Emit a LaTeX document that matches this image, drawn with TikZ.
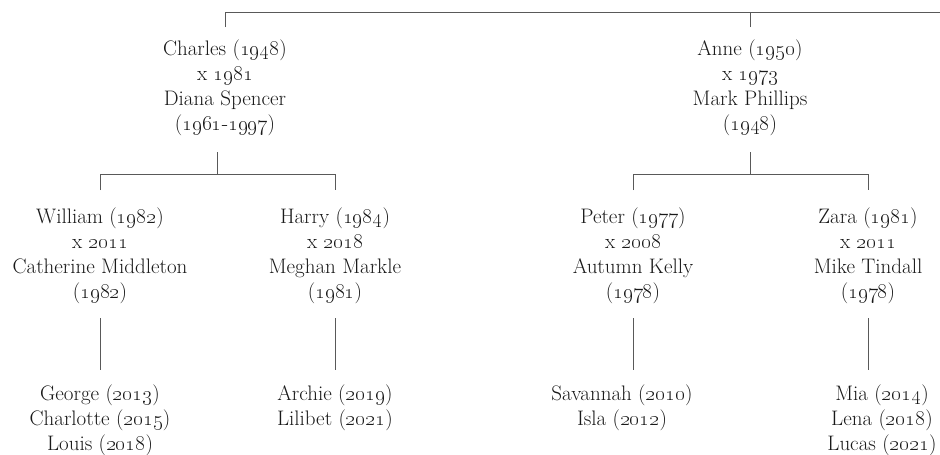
\documentclass[tikz,border=0pt]{standalone}
\usepackage{fix-cm}
\usetikzlibrary{calc,positioning}
\newcommand{\yr}[1]{\oldstylenums{#1}}
\tikzset{%
  person/.style={align=center,inner sep=0pt,anchor=north,
    font=\fontsize{21}{25}\selectfont,text=black!90},
  link/.style={draw=black!65,line width=0.8pt}
}
\begin{document}
\begin{tikzpicture}[x=1pt,y=1pt]
  \useasboundingbox (0,0) rectangle (940,-455);
  % first generation
  \node [person] (ch) at (225,-39.5) {Charles (\yr{1948})\\x \yr{1981}\\Diana Spencer\\(\yr{1961}-\yr{1997})};
  \node [person] (an) at (750,-39.5) {Anne (\yr{1950})\\x \yr{1973}\\Mark Phillips\\(\yr{1948})};
  % second generation
  \node [person] (wi) at (100,-208) {William (\yr{1982})\\x \yr{2011}\\Catherine Middleton\\(\yr{1982})};
  \node [person] (ha) at (335,-208) {Harry (\yr{1984})\\x \yr{2018}\\Meghan Markle\\(\yr{1981})};
  \node [person] (pe) at (633,-208) {Peter (\yr{1977})\\x \yr{2008}\\Autumn Kelly\\(\yr{1978})};
  \node [person] (za) at (868,-208) {Zara (\yr{1981})\\x \yr{2011}\\Mike Tindall\\(\yr{1978})};
  % third generation
  \node [person] (ge) [below=80pt of wi] {George (\yr{2013})\\Charlotte (\yr{2015})\\Louis (\yr{2018})};
  \node [person] (ar) [below=80pt of ha] {Archie (\yr{2019})\\Lilibet (\yr{2021})};
  \node [person] (sa) [below=80pt of pe,xshift=-11pt] {Savannah (\yr{2010})\\Isla (\yr{2012})};
  \node [person] (mi) [below=80pt of za,xshift=14pt] {Mia (\yr{2014})\\Lena (\yr{2018})\\Lucas (\yr{2021})};

  % top bar, it runs on past the right edge
  \coordinate (rest) at (940,-12);
  \draw [link] ([yshift=12.5pt]ch.north) |- (rest);
  \draw [link] ([yshift=12.5pt]an.north) -- ++(0,15);

  % couples to their children
  \draw [link] ([yshift=18pt]wi.north) -- ++(0,16) -| ([yshift=18pt]ha.north);
  \draw [link] ($(wi.north)!.5!(ha.north)+(0,34)$) -- ++(0,22);
  \draw [link] ([yshift=18pt]pe.north) -- ++(0,16) -| ([yshift=18pt]za.north);
  \draw [link] ($(pe.north)!.5!(za.north)+(0,34)$) -- ++(0,22);

  % grandchildren
  \draw [link] ([yshift=-13.75pt]wi.south) -- ($(wi.south |- ge.north)+(0,14.25)$);
  \draw [link] ([yshift=-13.75pt]ha.south) -- ($(ha.south |- ar.north)+(0,14.25)$);
  \draw [link] ([yshift=-13.75pt]pe.south) -- ($(pe.south |- sa.north)+(0,14.25)$);
  \draw [link] ([yshift=-13.75pt]za.south) -- ($(za.south |- mi.north)+(0,14.25)$);
\end{tikzpicture}
\end{document}
